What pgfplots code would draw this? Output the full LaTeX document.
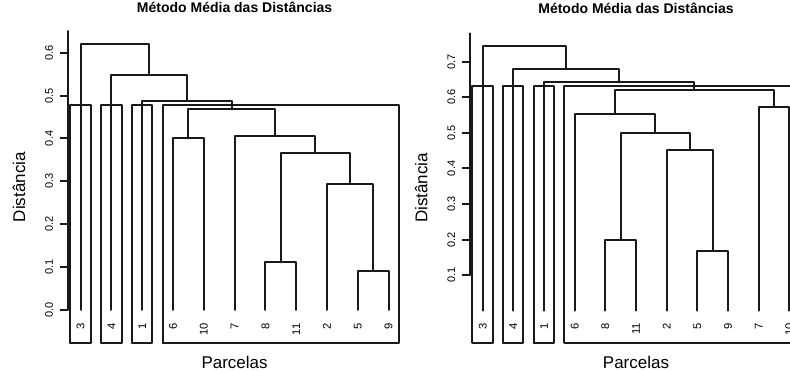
\documentclass[border=0pt]{standalone}
\usepackage{fontspec}
\setmainfont{Liberation Sans}
\usepackage{pgfplots}
\pgfplotsset{compat=1.18}
\pgfplotsset{
  dl/.style={draw=black!90, solid, line width=1pt, mark=none, line cap=round, line join=round},
  dendro/.style={
    scale only axis,
    anchor=south west,
    xmin=0.6, xmax=11.4,
    clip=false,
    axis x line=bottom,
    axis y line=left,
    x axis line style={draw=none},
    y axis line style={draw=none},
    xtick={1,...,11},
    xtick style={draw=none},
    xticklabel style={rotate=90, anchor=east, inner sep=0pt, font=\fontsize{5.6}{6}\selectfont},
    xticklabel shift=-14pt,
    ytick style={draw=black!90, line width=1pt},
    tick align=outside,
    major tick length=4pt,
    yticklabel style={rotate=90, anchor=south, inner sep=0pt, font=\fontsize{5.5}{6}\selectfont},
    yticklabel shift=3.4pt,
    title style={anchor=base, font=\bfseries\fontsize{7}{8}\selectfont},
    xlabel style={anchor=base, font=\fontsize{8.5}{10}\selectfont},
    ylabel style={anchor=center, font=\fontsize{8.5}{10}\selectfont},
    /pgf/number format/assume math mode=true,
    title={Método Média das Distâncias},
    xlabel={Parcelas},
    ylabel={Distância},
  }
}
\begin{document}
\begin{tikzpicture}
\useasboundingbox (0,0) rectangle (395pt,185.5pt);
\clip (0,0) rectangle (395pt,185.5pt);
% ---------------- left dendrogram ----------------
\begin{axis}[dendro,
  at={(34.15pt,14pt)}, width=166.3pt, height=155.9pt,
  ymin=-0.077, ymax=0.65,
  xticklabels={3,4,1,6,10,7,8,11,2,5,9},
  ytick={0,0.1,0.2,0.3,0.4,0.5,0.6},
  yticklabels={0.0,0.1,0.2,0.3,0.4,0.5,0.6},
  title style={at={(axis description cs:0.5,1.021)}},
  xlabel style={at={(axis description cs:0.5,-0.082)}},
  ylabel style={at={(axis description cs:-0.148,0.5)}},
]
\addplot[dl] coordinates {(0.6,0)(0.6,0.65)};
\addplot[dl] coordinates {(7,0)(7,0.111)(8,0.111)(8,0)};
\addplot[dl] coordinates {(10,0)(10,0.091)(11,0.091)(11,0)};
\addplot[dl] coordinates {(9,0)(9,0.294)(10.5,0.294)(10.5,0.091)};
\addplot[dl] coordinates {(7.5,0.111)(7.5,0.366)(9.75,0.366)(9.75,0.294)};
\addplot[dl] coordinates {(6,0)(6,0.406)(8.625,0.406)(8.625,0.366)};
\addplot[dl] coordinates {(4,0)(4,0.400)(5,0.400)(5,0)};
\addplot[dl] coordinates {(4.5,0.400)(4.5,0.468)(7.3125,0.468)(7.3125,0.406)};
\addplot[dl] coordinates {(3,0)(3,0.488)(5.90625,0.488)(5.90625,0.468)};
\addplot[dl] coordinates {(2,0)(2,0.548)(4.453125,0.548)(4.453125,0.488)};
\addplot[dl] coordinates {(1,0)(1,0.620)(3.2265625,0.620)(3.2265625,0.548)};
% cluster rectangles
\addplot[dl] coordinates {(0.66,-0.077)(0.66,0.478)(1.33,0.478)(1.33,-0.077)(0.66,-0.077)};
\addplot[dl] coordinates {(1.66,-0.077)(1.66,0.478)(2.33,0.478)(2.33,-0.077)(1.66,-0.077)};
\addplot[dl] coordinates {(2.66,-0.077)(2.66,0.478)(3.33,0.478)(3.33,-0.077)(2.66,-0.077)};
\addplot[dl] coordinates {(3.66,-0.077)(3.66,0.478)(11.33,0.478)(11.33,-0.077)(3.66,-0.077)};
\end{axis}
% ---------------- right dendrogram ----------------
\begin{axis}[dendro,
  at={(235.2pt,14.15pt)}, width=165.6pt, height=154.7pt,
  ymin=-0.090, ymax=0.78,
  xticklabels={3,4,1,6,8,11,2,5,9,7,10},
  ytick={0.1,0.2,0.3,0.4,0.5,0.6,0.7},
  yticklabels={0.1,0.2,0.3,0.4,0.5,0.6,0.7},
  title style={at={(axis description cs:0.5,1.024)}},
  xlabel style={at={(axis description cs:0.5,-0.083)}},
  ylabel style={at={(axis description cs:-0.148,0.5)}},
]
\addplot[dl] coordinates {(0.6,0.1)(0.6,0.78)};
\addplot[dl] coordinates {(5,0)(5,0.200)(6,0.200)(6,0)};
\addplot[dl] coordinates {(8,0)(8,0.168)(9,0.168)(9,0)};
\addplot[dl] coordinates {(7,0)(7,0.452)(8.5,0.452)(8.5,0.168)};
\addplot[dl] coordinates {(5.5,0.200)(5.5,0.500)(7.75,0.500)(7.75,0.452)};
\addplot[dl] coordinates {(4,0)(4,0.554)(6.625,0.554)(6.625,0.500)};
\addplot[dl] coordinates {(10,0)(10,0.573)(11,0.573)(11,0)};
\addplot[dl] coordinates {(5.3125,0.554)(5.3125,0.620)(10.5,0.620)(10.5,0.573)};
\addplot[dl] coordinates {(3,0)(3,0.643)(7.90625,0.643)(7.90625,0.620)};
\addplot[dl] coordinates {(2,0)(2,0.679)(5.453125,0.679)(5.453125,0.643)};
\addplot[dl] coordinates {(1,0)(1,0.744)(3.7265625,0.744)(3.7265625,0.679)};
% cluster rectangles
\addplot[dl] coordinates {(0.66,-0.090)(0.66,0.632)(1.33,0.632)(1.33,-0.090)(0.66,-0.090)};
\addplot[dl] coordinates {(1.66,-0.090)(1.66,0.632)(2.33,0.632)(2.33,-0.090)(1.66,-0.090)};
\addplot[dl] coordinates {(2.66,-0.090)(2.66,0.632)(3.33,0.632)(3.33,-0.090)(2.66,-0.090)};
\addplot[dl] coordinates {(3.66,-0.090)(3.66,0.632)(11.33,0.632)(11.33,-0.090)(3.66,-0.090)};
\end{axis}
\end{tikzpicture}
\end{document}
